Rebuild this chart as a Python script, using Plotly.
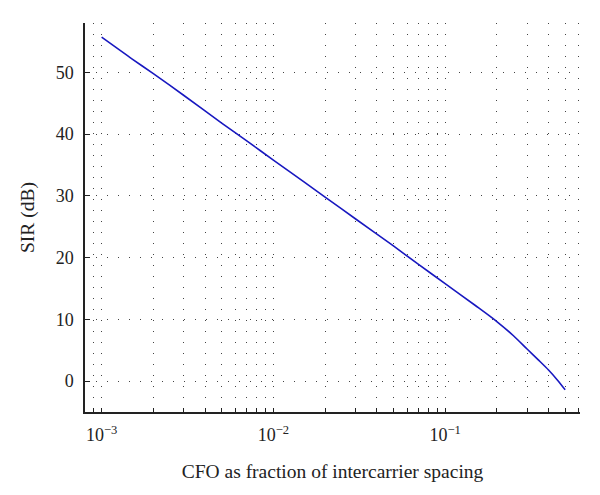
import numpy as np
import plotly.graph_objects as go

# Data
cfo = [0.001, 0.0015, 0.002, 0.003, 0.005, 0.007, 0.01, 0.015, 0.02,
       0.03, 0.05, 0.07, 0.1, 0.15, 0.2, 0.25, 0.3, 0.35, 0.4, 0.45, 0.5]
sir_db = [55.7, 52.2, 49.8, 46.3, 41.8, 38.9, 35.8, 32.3, 29.8,
          26.3, 21.9, 18.9, 15.8, 12.25, 9.65, 7.35, 5.2, 3.4, 1.8, 0.2, -1.4]

x_major = [1e-3, 1e-2, 1e-1]
x_tick_labels = ["10<sup>−3</sup>", "10<sup>−2</sup>", "10<sup>−1</sup>"]
x_minor = [8e-4, 9e-4,
           2e-3, 3e-3, 4e-3, 5e-3, 6e-3, 7e-3, 8e-3, 9e-3,
           2e-2, 3e-2, 4e-2, 5e-2, 6e-2, 7e-2, 8e-2, 9e-2,
           2e-1, 3e-1, 4e-1, 5e-1, 6e-1]
y_ticks = [0, 10, 20, 30, 40, 50]

font_family = "Liberation Serif"

fig = go.Figure()
fig.add_trace(go.Scatter(
    x=cfo, y=sir_db, mode="lines",
    line=dict(color="#1818c0", width=1.6, shape="spline", smoothing=0.8),
    showlegend=False,
))

grid_dash = "1px,10px"
fig.update_layout(
    width=600, height=495,
    margin=dict(l=85, r=20, t=23, b=83),
    paper_bgcolor="white", plot_bgcolor="white",
    font=dict(family=font_family, size=18, color="#222"),
)
fig.update_xaxes(
    type="log", automargin=False,
    range=[np.log10(8e-4), np.log10(0.61)],
    tickvals=x_major, ticktext=x_tick_labels,
    ticks="inside", ticklen=4, tickcolor="#222",
    showline=True, linecolor="#222", linewidth=1.5,
    showgrid=True, gridcolor="#444", gridwidth=1, griddash=grid_dash,
    minor=dict(tickmode="array", tickvals=x_minor, ticks="inside", ticklen=4,
               tickcolor="#222", showgrid=True, gridcolor="#444", gridwidth=1,
               griddash=grid_dash),
    zeroline=False,
    tickfont=dict(size=18), ticklabelstandoff=6,
    title=dict(text="CFO as fraction of intercarrier spacing", font=dict(size=19.5), standoff=20),
)
fig.update_yaxes(
    range=[-5, 58], automargin=False,
    tickvals=y_ticks,
    ticks="inside", ticklen=5, tickcolor="#222",
    showline=True, linecolor="#222", linewidth=1.5,
    showgrid=True, gridcolor="#444", gridwidth=1, griddash=grid_dash,
    zeroline=False,
    tickfont=dict(size=18), ticklabelstandoff=6,
    title=dict(text="SIR (dB)", font=dict(size=19.5), standoff=16),
)

fig.write_html("out.html", config={"displayModeBar": False},
               post_script="document.body.style.margin='0';")
